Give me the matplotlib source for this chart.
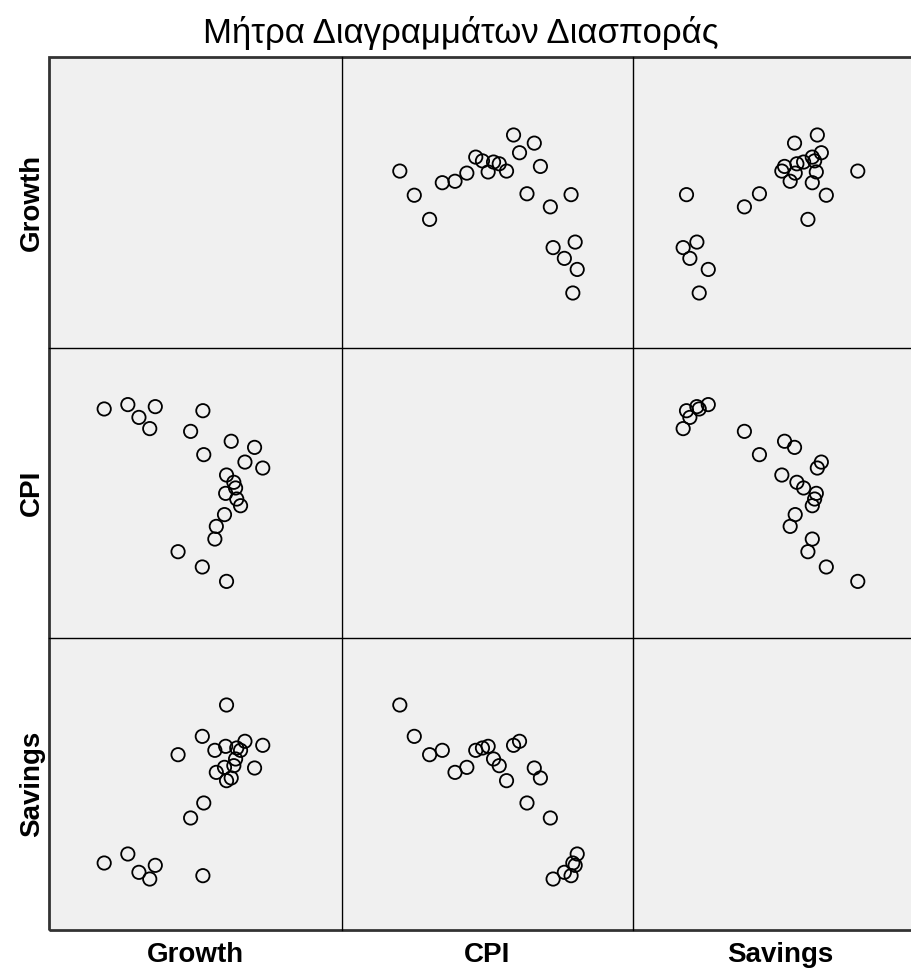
import matplotlib
matplotlib.use("Agg")
import matplotlib.pyplot as plt
from matplotlib.lines import Line2D

# ---- data ----
variables = ["Growth", "CPI", "Savings"]

growth = [4.08, 3.25, 2.42, 3.68, 3.73, 4.01, 4.56, 4.43, 4.05, 4.39, 4.33, 4.08,
          5.32, 4.71, 5.04, 4.24, 3.30, 2.85, 3.27, 1.64, 1.45, 1.08, 0.70, -0.11]
cpi = [3.96, 4.95, 6.00, 6.87, 7.74, 8.55, 9.16, 9.62, 10.01, 10.38, 10.77, 11.27,
       11.75, 12.16, 13.17, 13.59, 12.67, 14.27, 15.69, 15.97, 14.46, 15.23, 16.11, 15.81]
savings = [30.79, 26.48, 23.96, 24.56, 21.53, 22.22, 24.56, 24.88, 25.11, 23.37, 22.45, 20.39,
           25.25, 25.80, 22.13, 20.76, 17.32, 15.26, 7.33, 8.75, 6.87, 7.79, 10.31, 9.07]

axis_limits = {"Growth": (-2, 8), "CPI": (0, 20), "Savings": (0, 40)}
title = "Μήτρα Διαγραμμάτων Διασποράς"

data = {"Growth": growth, "CPI": cpi, "Savings": savings}

W, H = 911, 969
fig = plt.figure(figsize=(W / 100, H / 100), dpi=100)
fig.patch.set_facecolor("white")

col_left = [49, 342, 633]
row_top = [57, 348, 638]
pw, ph = 292, 291

for i, rv in enumerate(variables):
    for j, cv in enumerate(variables):
        ax = fig.add_axes([col_left[j] / W, 1 - (row_top[i] + ph) / H, pw / W, ph / H])
        ax.set_facecolor("#F0F0F0")
        ax.set_xticks([])
        ax.set_yticks([])
        for s in ax.spines.values():
            s.set_visible(False)
        ax.set_xlim(axis_limits[cv])
        ax.set_ylim(axis_limits[rv])
        if i != j:
            ax.scatter(data[cv], data[rv], s=92, facecolors="none",
                       edgecolors="black", linewidths=1.3, clip_on=False)

# inner grid lines
for x in [342, 633]:
    fig.add_artist(Line2D([x / W, x / W], [1 - 930 / H, 1 - 57 / H],
                          transform=fig.transFigure, color="black", linewidth=1.0))
for y in [348, 638]:
    fig.add_artist(Line2D([49 / W, 925 / W], [1 - y / H, 1 - y / H],
                          transform=fig.transFigure, color="black", linewidth=1.0))

# outer frame
fig.add_artist(plt.Rectangle((49 / W, 1 - 930 / H), (925 - 49) / W, (930 - 57) / H,
                             transform=fig.transFigure, fill=False,
                             edgecolor="#333333", linewidth=2.0))

fig.text(461 / W, 1 - 33 / H, title, ha="center", va="center",
         fontsize=25, family=["Liberation Sans", "DejaVu Sans"])

centers_x = [195, 487, 780]
centers_y = [202, 493, 784]
for k, v in enumerate(variables):
    fig.text(centers_x[k] / W, 1 - 955 / H, v, ha="center", va="center",
             fontsize=20, fontweight="bold", family=["Liberation Sans", "DejaVu Sans"])
    fig.text(32 / W, 1 - centers_y[k] / H, v, ha="center", va="center", rotation=90,
             fontsize=20, fontweight="bold", family=["Liberation Sans", "DejaVu Sans"])

fig.savefig("out.png", dpi=100)
